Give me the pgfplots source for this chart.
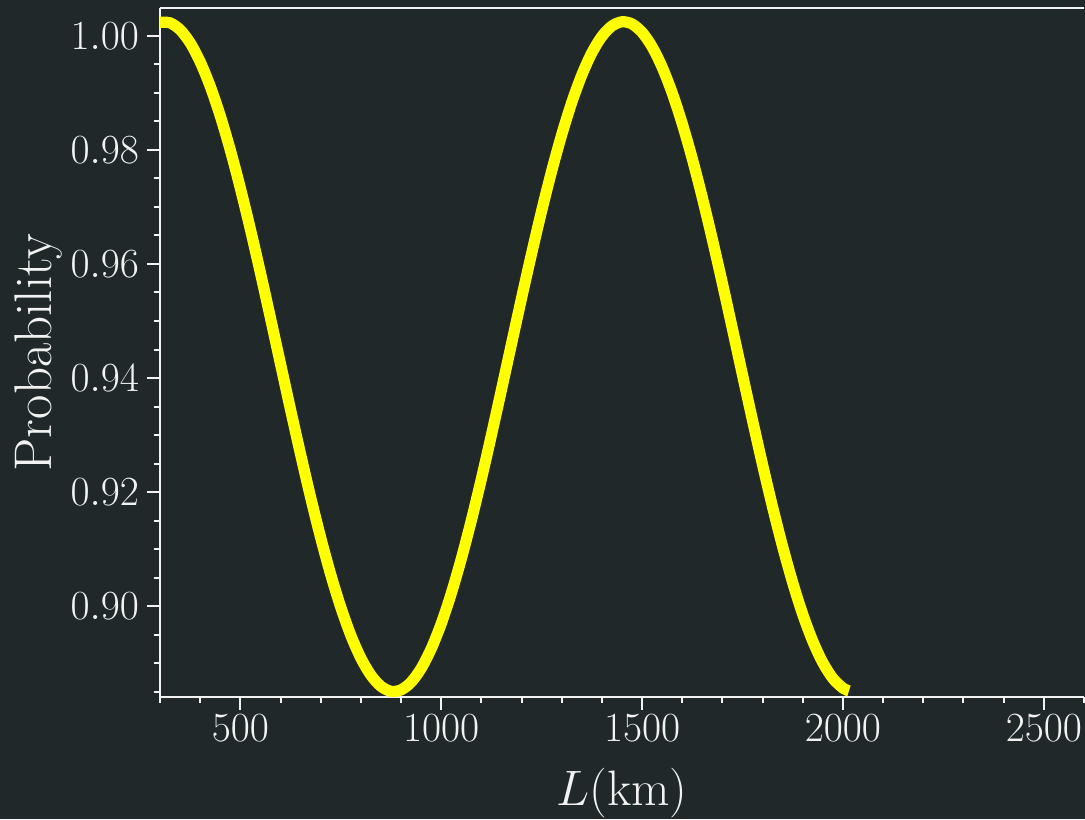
\documentclass[border=0pt]{standalone}
\usepackage{pgfplots}
\pgfplotsset{compat=1.18}
\definecolor{bg}{RGB}{33,40,42}
\definecolor{fg}{RGB}{242,242,242}
\definecolor{curve}{RGB}{255,255,0}
\begin{document}
\begin{tikzpicture}
\fill[bg] (0,0) rectangle (542.5pt,409.5pt);
\useasboundingbox (0,0) rectangle (542.5pt,409.5pt);
\clip (0,0) rectangle (542.5pt,409.5pt);
\begin{axis}[
  at={(80pt,61pt)}, anchor=south west,
  scale only axis, width=462pt, height=344.5pt,
  xmin=300, xmax=2600, ymin=0.88404, ymax=1.00491,
  axis x line*=box, axis y line*=left,
  xtick pos=bottom, ytick pos=left,
  axis line style={fg, line width=1pt},
  every tick/.style={fg, line width=1pt},
  tick align=outside,
  major tick length=6.5pt, minor tick length=3pt,
  xtick={500,1000,1500,2000,2500},
  minor xtick={300,400,600,700,800,900,1100,1200,1300,1400,1600,1700,1800,1900,2100,2200,2300,2400,2600},
  ytick={0.90,0.92,0.94,0.96,0.98,1.00},
  minor ytick={0.885,0.89,0.895,0.905,0.91,0.915,0.925,0.93,0.935,0.945,0.95,0.955,0.965,0.97,0.975,0.985,0.99,0.995},
  yticklabel style={/pgf/number format/.cd, fixed, fixed zerofill, precision=2, /tikz/xshift=-0.5pt},
  xticklabel style={/pgf/number format/.cd, 1000 sep={}, /tikz/yshift=1.3pt},
  tick label style={fg, font=\fontsize{21.5}{25}\selectfont},
  every axis x label/.style={at={([yshift=-54pt]axis description cs:0.5,0)}, anchor=base, text=fg, font=\fontsize{25.5}{30}\selectfont},
  every axis y label/.style={at={([xshift=-54pt]axis description cs:0,0.5)}, rotate=90, anchor=base, text=fg, font=\fontsize{26.5}{31}\selectfont},
  xlabel={$L(\mathrm{km})$},
  ylabel={Probability},
]
\addplot[curve, line width=5.6pt, smooth, line cap=butt] coordinates {
(300,1.00241) (325,1.00230) (350,1.00109) (375,0.99880) (400,0.99547) (425,0.99117)
(450,0.98598) (475,0.97999) (500,0.97331) (525,0.96608) (550,0.95844) (575,0.95051)
(600,0.94246) (625,0.93443) (650,0.92659) (675,0.91905) (700,0.91198) (725,0.90551)
(750,0.89978) (775,0.89486) (800,0.89086) (825,0.88786) (850,0.88591) (875,0.88504)
(900,0.88529) (925,0.88663) (950,0.88905) (975,0.89250) (1000,0.89690) (1025,0.90221)
(1050,0.90829) (1075,0.91503) (1100,0.92231) (1125,0.93000) (1150,0.93796) (1175,0.94601)
(1200,0.95402) (1225,0.96184) (1250,0.96932) (1275,0.97632) (1300,0.98270) (1325,0.98836)
(1350,0.99317) (1375,0.99706) (1400,0.99994) (1425,1.00176) (1450,1.00249) (1475,1.00211)
(1500,1.00063) (1525,0.99809) (1550,0.99452) (1575,0.99000) (1600,0.98460) (1625,0.97845)
(1650,0.97162) (1675,0.96428) (1700,0.95656) (1725,0.94858) (1750,0.94052) (1775,0.93253)
(1800,0.92474) (1825,0.91731) (1850,0.91038) (1875,0.90408) (1900,0.89851) (1925,0.89381)
(1950,0.89005) (1975,0.88729) (2000,0.88560) (2015,0.88511)
};
\end{axis}
\end{tikzpicture}
\end{document}
